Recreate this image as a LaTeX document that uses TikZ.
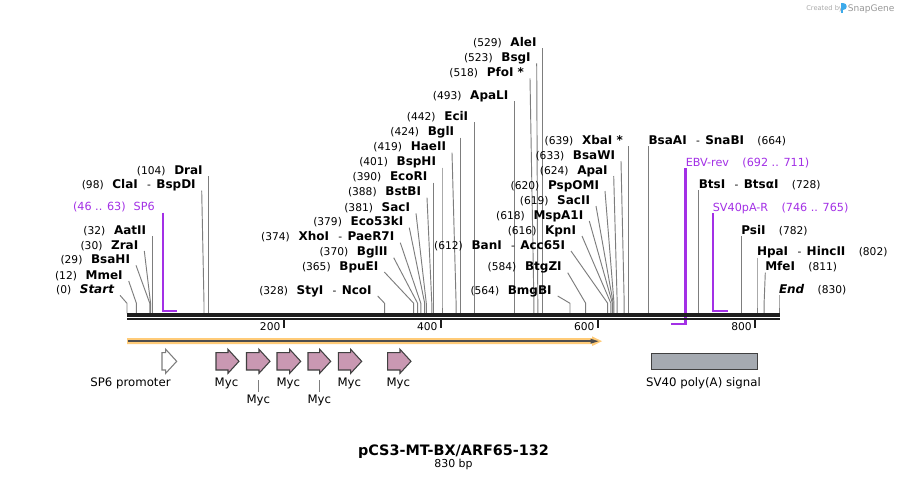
\documentclass[tikz,border=0pt]{standalone}
\usepackage{fontspec}
\setmainfont{DejaVu Sans}[BoldFont={DejaVu Sans Bold},ItalicFont={DejaVu Sans Oblique},BoldItalicFont={DejaVu Sans Bold Oblique}]
\definecolor{leadc}{RGB}{125,125,125}
\definecolor{primc}{RGB}{163,48,230}
\definecolor{mycf}{RGB}{201,152,178}
\definecolor{featline}{RGB}{64,64,64}
\definecolor{svf}{RGB}{165,170,177}
\definecolor{orglow}{RGB}{255,203,120}
\definecolor{orline}{RGB}{77,77,77}
\definecolor{bbc}{RGB}{30,30,30}
\definecolor{snapblue}{RGB}{60,170,235}
\definecolor{snapgrey}{RGB}{170,170,170}
\tikzset{
  lab/.style={inner sep=0pt, outer sep=0pt},
  leader/.style={draw=leadc, line width=0.7pt},
  primline/.style={draw=primc, line width=1.6pt},
  primlab/.style={inner sep=0pt, text=primc, font=\fontsize{8.4}{10}\selectfont},
  flab/.style={inner sep=0pt, font=\fontsize{8.8}{10}\selectfont},
  myc/.style={fill=mycf, draw=featline, line width=0.8pt},
  prom/.style={fill=white, draw=leadc, line width=0.8pt},
  ticklab/.style={inner sep=0pt, font=\fontsize{8}{9}\selectfont},
  bbline/.style={draw=bbc},
}
\newcommand\nm[1]{{\fontsize{8}{9}\selectfont(#1)}}
\newcommand\en[1]{{\fontsize{9}{10}\selectfont\bfseries #1}}
\newcommand\gapA{\hspace{6.5pt}}
\newcommand\gapB{\hspace{10pt}}
\newcommand\dsh{\hspace{7pt}{\fontsize{8}{9}\selectfont-}\hspace{4pt}}
\newcommand\enzL[5]{%
  \node[lab,anchor=base east] (#1) at (#2,#3+4) {#5};
  \coordinate (#1k) at (#4,303.3);
  \coordinate (#1c) at (#4,313.4);
  \draw[leader] ([shift={(6,2)}]#1.base east) -- (#1k) -- (#1c);}
\newcommand\enzR[5]{%
  \node[lab,anchor=base west] (#1) at (#2,#3+4) {#5};
  \coordinate (#1k) at (#4,303.3);
  \coordinate (#1c) at (#4,313.4);
  \draw[leader] ([shift={(0,2)}]#1.base west) -- (#1k) -- (#1c);}
\newcommand\farrow[4]{%
  \draw[#4] (#2,352.7) -- (#3-11,352.7) -- (#3-11,349.3) -- (#3,361.3) -- (#3-11,373.3) -- (#3-11,370) -- (#2,370) -- cycle;
  \coordinate (#1) at ({(#2+#3)/2},361.3);}
\begin{document}
\begin{tikzpicture}[x=0.75pt,y=-0.75pt]
\useasboundingbox (0,0) rectangle (908,480);
\fill[white] (0,0) rectangle (908,480);

% ---------------- enzyme labels (left-hand) ----------------
\enzL{eStart}{114}{289.3}{127.0}{\nm{0}\gapA\en{\itshape Start}}
\enzL{eMmeI}{122.7}{275}{136.4}{\nm{12}\gapA\en{MmeI}}
\enzL{eBsaHI}{130}{259.3}{149.8}{\nm{29}\gapA\en{BsaHI}}
\enzL{eZraI}{138.3}{245}{150.6}{\nm{30}\gapA\en{ZraI}}
\enzL{eAatII}{146.1}{230}{152.1}{\nm{32}\gapA\en{AatII}}
\enzL{eClaI}{195.7}{184.7}{204.0}{\nm{98}\gapA\en{ClaI}\dsh\en{BspDI}}
\enzL{eDraI}{202.7}{170}{208.7}{\nm{104}\gapA\en{DraI}}
\enzL{eStyI}{371.7}{290}{384.6}{\nm{328}\gapA\en{StyI}\dsh\en{NcoI}}
\enzL{eBpuEI}{378.3}{266}{413.7}{\nm{365}\gapA\en{BpuEI}}
\enzL{eBglII}{387.7}{251.7}{417.6}{\nm{370}\gapA\en{BglII}}
\enzL{eXhoI}{394.3}{236.7}{420.8}{\nm{374}\gapA\en{XhoI}\dsh\en{PaeR7I}}
\enzL{eEcoFiftyThree}{403.3}{221.7}{424.7}{\nm{379}\gapA\en{Eco53kI}}
\enzL{eSacI}{410}{207.3}{426.3}{\nm{381}\gapA\en{SacI}}
\enzL{eBstBI}{421}{191.7}{431.8}{\nm{388}\gapA\en{BstBI}}
\enzL{eEcoRI}{427.3}{176.7}{433.3}{\nm{390}\gapA\en{EcoRI}}
\enzL{eBspHI}{436}{161.7}{442.0}{\nm{401}\gapA\en{BspHI}}
\enzL{eHaeII}{446}{146.7}{456.1}{\nm{419}\gapA\en{HaeII}}
\enzL{eBglI}{454.1}{131.7}{460.1}{\nm{424}\gapA\en{BglI}}
\enzL{eEciI}{468.2}{116}{474.2}{\nm{442}\gapA\en{EciI}}
\enzL{eApaLI}{508.3}{95}{514.3}{\nm{493}\gapA\en{ApaLI}}
\enzL{ePfoI}{524}{72.3}{533.9}{\nm{518}\gapA\en{PfoI *}}
\enzL{eBsgI}{530.7}{57.3}{537.8}{\nm{523}\gapA\en{BsgI}}
\enzL{eAleI}{536.5}{42.3}{542.5}{\nm{529}\gapA\en{AleI}}
\enzL{eBmgBI}{551.7}{290}{570.0}{\nm{564}\gapA\en{BmgBI}}
\enzL{eBtgZI}{561.7}{266.7}{585.7}{\nm{584}\gapA\en{BtgZI}}
\enzL{eBanI}{565}{245}{607.7}{\nm{612}\gapA\en{BanI}\dsh\en{Acc65I}}
\enzL{eKpnI}{576}{230}{610.9}{\nm{616}\gapA\en{KpnI}}
\enzL{eMspAI}{583.3}{215}{612.4}{\nm{618}\gapA\en{MspA1I}}
\enzL{eSacII}{590}{200}{613.2}{\nm{619}\gapA\en{SacII}}
\enzL{ePspOMI}{599}{185}{614.0}{\nm{620}\gapA\en{PspOMI}}
\enzL{eApaI}{607.7}{170}{617.2}{\nm{624}\gapA\en{ApaI}}
\enzL{eBsaWI}{615}{155}{624.2}{\nm{633}\gapA\en{BsaWI}}
\enzL{eXbaI}{622.9}{140}{628.9}{\nm{639}\gapA\en{XbaI *}}

% ---------------- enzyme labels (right-hand) ----------------
\enzR{eBsaAI}{648.6}{140}{648.6}{\en{BsaAI}\dsh\en{SnaBI}\gapB\nm{664}}
\enzR{eBtsI}{698.8}{184.3}{698.8}{\en{BtsI}\dsh\en{BtsαI}\gapB\nm{728}}
\enzR{ePsiI}{741.3}{230}{741.3}{\en{PsiI}\gapB\nm{782}}
\enzR{eHpaI}{757.0}{251.7}{757.0}{\en{HpaI}\dsh\en{HincII}\gapB\nm{802}}
\enzR{eMfeI}{765.3}{266.7}{764.1}{\en{MfeI}\gapB\nm{811}}
\enzR{eEnd}{779.0}{289.3}{779.0}{\en{\itshape End}\gapB\nm{830}}

% ---------------- primers ----------------
\node[primlab,anchor=base east] (pSP6) at (155,210.7) {(46 .. 63)\hspace{6pt}SP6};
\coordinate (pSP6a) at (163.1,212.7);
\coordinate (pSP6b) at (163.1,310.7);
\coordinate (pSP6c) at (176.5,310.7);
\draw[primline] (pSP6a) -- (pSP6b) -- (pSP6c);

\node[primlab,anchor=base west] (pEBV) at (685.5,166.3) {EBV-rev\hspace{10pt}(692 .. 711)};
\coordinate (pEBVa) at (685.5,168.3);
\coordinate (pEBVb) at (685.5,323.7);
\coordinate (pEBVc) at (670.6,323.7);
\draw[primline] (pEBVa) -- (pEBVb) -- (pEBVc);

\node[primlab,anchor=base west] (pSV) at (712.6,211.3) {SV40pA-R\hspace{10pt}(746 .. 765)};
\coordinate (pSVa) at (713.0,213.3);
\coordinate (pSVb) at (713.0,310.7);
\coordinate (pSVc) at (727.9,310.7);
\draw[primline] (pSVa) -- (pSVb) -- (pSVc);

% ---------------- backbone ----------------
\coordinate (bbA) at (127,315);
\coordinate (bbB) at (779.8,315);
\coordinate (bbC) at (127,319);
\coordinate (bbD) at (779.8,319);
\draw[bbline, line width=2.4pt] (bbA) -- (bbB);
\draw[bbline, line width=1.7pt] (bbC) -- (bbD);

% ticks
\foreach \t/\xx in {200/284.1,400/441.2,600/598.3,800/755.4}{
  \coordinate (tk\t a) at (\xx,320);
  \coordinate (tk\t b) at (\xx,327.5);
  \draw[bbc, line width=1.4pt] (tk\t a) -- (tk\t b);
  \node[ticklab,anchor=base east] (tl\t) at (\xx-3.5,330.7) {\t};
}

% ---------------- ORF arrow ----------------
\fill[orglow] (127,338.2) -- (592,338.2) -- (592,336.3) -- (602,341.2) -- (592,346.1) -- (592,344.2) -- (127,344.2) -- cycle;
\coordinate (orfA) at (128,341.2);
\coordinate (orfB) at (592,341.2);
\draw[orline, line width=1.3pt] (orfA) -- (orfB);
\fill[orline] (590.5,338.7) -- (598.5,341.2) -- (590.5,343.7) -- cycle;

% ---------------- features ----------------
\farrow{fSP6}{162}{176.7}{prom}
\node[flab,anchor=base] (lSP6) at (130.5,386.3) {SP6 promoter};

\farrow{fMycA}{216}{239}{myc}
\farrow{fMycB}{246.5}{270}{myc}
\farrow{fMycC}{277}{300.7}{myc}
\farrow{fMycD}{308}{330.7}{myc}
\farrow{fMycE}{338.3}{361.7}{myc}
\farrow{fMycF}{387.7}{411}{myc}
\node[flab,anchor=base] (lMycA) at (226.5,386.3) {Myc};
\node[flab,anchor=base] (lMycB) at (258.3,403.3) {Myc};
\node[flab,anchor=base] (lMycC) at (288.3,386.3) {Myc};
\node[flab,anchor=base] (lMycD) at (319.3,403.3) {Myc};
\node[flab,anchor=base] (lMycE) at (349.3,386.3) {Myc};
\node[flab,anchor=base] (lMycF) at (398.3,386.3) {Myc};
\coordinate (tMycBa) at (258.3,380);
\coordinate (tMycBb) at (258.3,391.7);
\coordinate (tMycDa) at (319.3,380);
\coordinate (tMycDb) at (319.3,391.7);
\draw[leader] (tMycBa) -- (tMycBb);
\draw[leader] (tMycDa) -- (tMycDb);

\node[draw=featline, fill=svf, line width=0.8pt, minimum width=106*0.75pt, minimum height=16*0.75pt, inner sep=0pt] (fSV) at (704.7,361.3) {};
\node[flab,anchor=base] (lSV) at (703.5,386.3) {SV40 poly(A) signal};

% ---------------- title ----------------
\node[inner sep=0pt,anchor=base,font=\fontsize{10.8}{12}\selectfont\bfseries] (title) at (453.5,455) {pCS3-MT-BX/ARF65-132};
\node[inner sep=0pt,anchor=base,font=\fontsize{8.2}{10}\selectfont] (bp) at (453.5,467.3) {830 bp};

% ---------------- credit ----------------
\node[inner sep=0pt,anchor=base west,text=snapgrey,font=\fontsize{5}{6}\selectfont] (cred) at (806,10.3) {Created by};
\fill[snapblue] (841.2,3.2) rectangle (843.2,13);
\fill[snapblue] (843.2,3.2) .. controls (847.5,3.2) and (847.5,9.5) .. (843.2,9.5) -- cycle;
\node[inner sep=0pt,anchor=base west,text=snapgrey!90!black,font=\fontsize{6.8}{8}\selectfont] (snap) at (847.5,11) {SnapGene};
\end{tikzpicture}
\end{document}
